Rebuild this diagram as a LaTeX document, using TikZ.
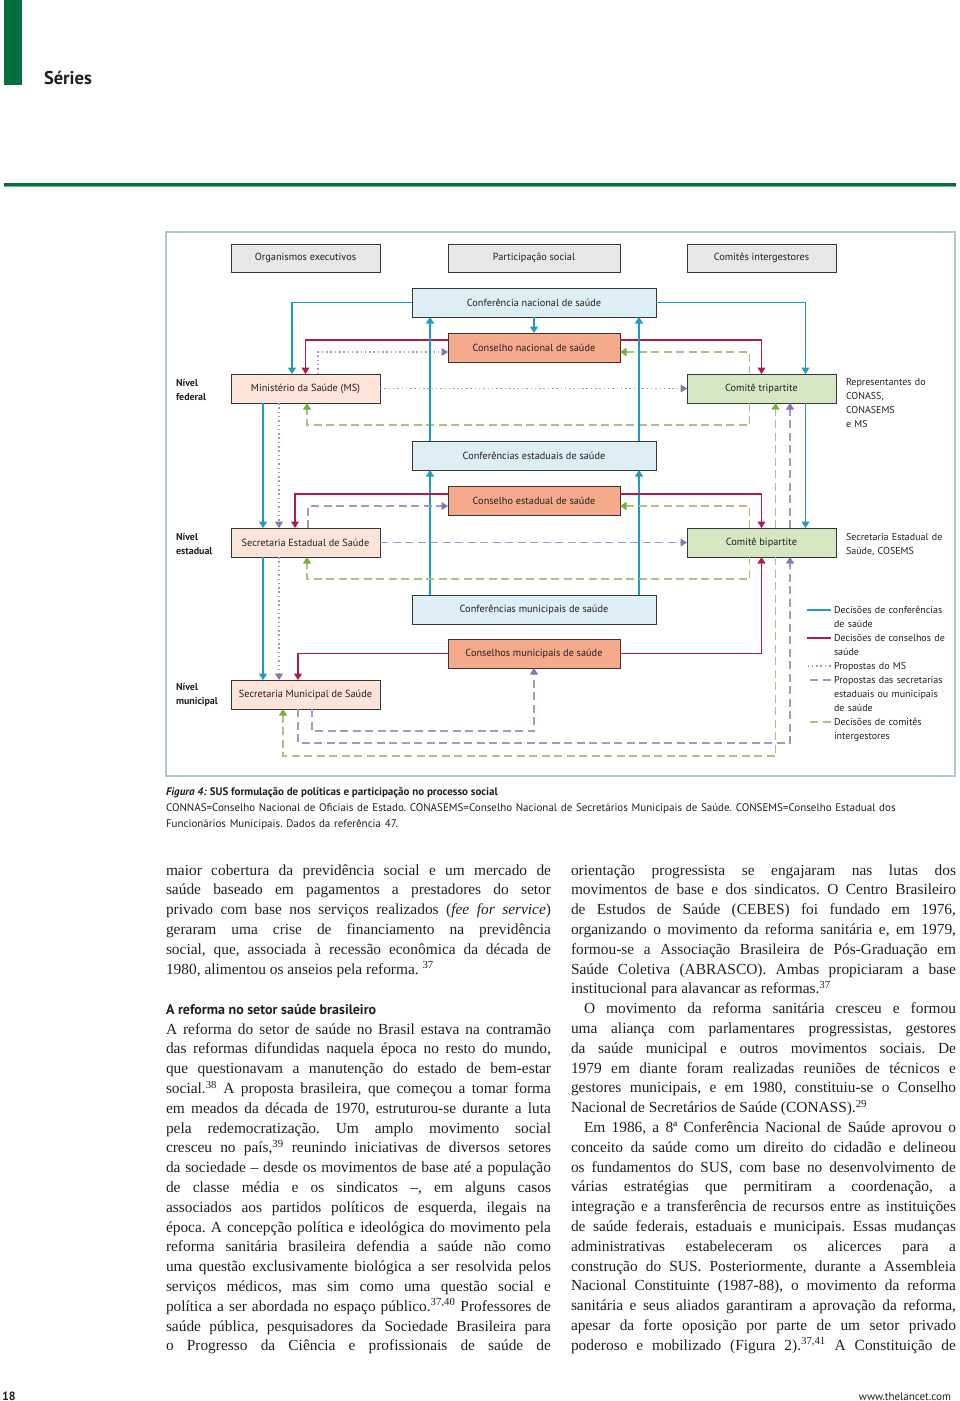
\documentclass[tikz,border=0pt]{standalone}
\usepackage{fontspec}
\setmainfont{Liberation Serif}
\newfontfamily\lancetsans{PT Sans}
\usetikzlibrary{arrows.meta}
\tolerance=10000
\hbadness=10000
\hyphenpenalty=10000
\frenchspacing

\begin{document}
\begin{tikzpicture}[x=1pt,y=-1pt,
  every node/.style={inner sep=0pt,outer sep=0pt,text=textColor},
  box/.style={draw=boxColor,line width=1pt,minimum width=149pt,minimum height=29pt,
    font=\lancetsans\fontsize{10.3}{12}\selectfont},
  hdrbox/.style={box,fill=grayFill,minimum height=28pt},
  confbox/.style={box,fill=confFill,minimum width=244pt},
  conbox/.style={box,fill=conFill,minimum width=172pt},
  secbox/.style={box,fill=secFill},
  combox/.style={box,fill=comFill},
  sidetext/.style={anchor=base west,text width=120pt,align=left,font=\lancetsans\fontsize{10}{14}\selectfont},
  lvltext/.style={sidetext,text width=52pt,font=\lancetsans\bfseries\fontsize{10}{14}\selectfont},
  conn/.style={line width=1.1pt},
  blueLine/.style={conn,draw=blueColor},
  redLine/.style={conn,draw=redColor},
  msLine/.style={conn,draw=purpleColor,dash pattern=on 1.5pt off 2.8pt},
  secLine/.style={conn,draw=purpleColor,dash pattern=on 8pt off 4.5pt},
  comLine/.style={conn,draw=greenColor,dash pattern=on 8pt off 4.5pt},
  arr/.style={-{Triangle[width=8pt,length=6.5pt,color=#1]}},
  body/.style={anchor=base west,text width=385pt,align=justify,font=\fontsize{15.4}{19.8}\selectfont},
]
\definecolor{textColor}{RGB}{35,31,32}
\definecolor{barColor}{RGB}{0,112,60}
\definecolor{ruleLight}{RGB}{110,180,140}
\definecolor{frameColor}{RGB}{175,200,195}
\definecolor{boxColor}{RGB}{55,55,55}
\definecolor{grayFill}{RGB}{230,231,232}
\definecolor{confFill}{RGB}{221,238,244}
\definecolor{conFill}{RGB}{246,170,140}
\definecolor{secFill}{RGB}{252,228,216}
\definecolor{comFill}{RGB}{213,230,195}
\definecolor{blueColor}{RGB}{30,155,190}
\definecolor{redColor}{RGB}{180,25,75}
\definecolor{purpleColor}{RGB}{165,150,198}
\definecolor{purpleTip}{RGB}{140,115,180}
\definecolor{greenColor}{RGB}{165,195,135}
\definecolor{greenTip}{RGB}{115,175,65}
\useasboundingbox[fill=white] (0,0) rectangle (960,1401);

% page head
\fill[barColor] (4,0) rectangle (22,85);
\node[anchor=base west,font=\lancetsans\bfseries\fontsize{18.5}{20}\selectfont] (series) at (44,84) {Séries};
\fill[barColor] (4,182.5) rectangle (956,185.5);
\fill[ruleLight] (4,185.5) rectangle (956,187);

% figure frame
\draw[frameColor,line width=1.2pt] (166,232) rectangle (955,776);

% column heads
\node[hdrbox] (hdrOrg) at (305.5,258) {Organismos executivos};
\node[hdrbox,minimum width=172pt] (hdrPart) at (534,258) {Participação social};
\node[hdrbox] (hdrCom) at (761.5,258) {Comitês intergestores};

% boxes
\node[confbox] (confNac) at (534,302.5) {Conferência nacional de saúde};
\node[conbox] (conNac) at (534,347.5) {Conselho nacional de saúde};
\node[secbox] (ms) at (305.5,388.5) {Ministério da Saúde (MS)};
\node[combox] (tri) at (761.5,388.5) {Comitê tripartite};
\node[confbox] (confEst) at (534,455.5) {Conferências estaduais de saúde};
\node[conbox] (conEst) at (534,500.5) {Conselho estadual de saúde};
\node[secbox] (ses) at (305.5,542.5) {Secretaria Estadual de Saúde};
\node[combox] (bi) at (761.5,542.5) {Comitê bipartite};
\node[confbox] (confMun) at (534,609.5) {Conferências municipais de saúde};
\node[conbox] (conMun) at (534,653.5) {Conselhos municipais de saúde};
\node[secbox] (sms) at (305.5,694.5) {Secretaria Municipal de Saúde};

% level names and notes
\node[lvltext] (lvlFed) at (176,386.5) {Nível\\federal};
\node[lvltext] (lvlEst) at (176,540) {Nível\\estadual};
\node[lvltext] (lvlMun) at (176,690) {Nível\\municipal};
\node[sidetext] (triNote) at (846,385.5) {Representantes do\\CONASS,\\CONASEMS\\e MS};
\node[sidetext] (biNote) at (846,540.5) {Secretaria Estadual de\\Saúde, COSEMS};

% federal level
\draw[blueLine,arr=blueColor] (confNac.west) -| ([xshift=-13.5pt]ms.north);
\draw[redLine,arr=redColor] ([yshift=7.5pt]conNac.west) -| (ms.north);
\draw[msLine,arr=purpleTip] ([xshift=12.5pt]ms.north) |- ([yshift=-4.5pt]conNac.west);
\draw[blueLine,arr=blueColor] (confNac.south) -- (conNac.north);
\draw[blueLine,arr=blueColor] (confNac.east) -| ([xshift=44pt]tri.north);
\draw[redLine,arr=redColor] ([yshift=7.5pt]conNac.east) -| (tri.north);
\draw[comLine,arr=greenTip] ([xshift=-12pt]tri.north) |- ([yshift=-4.5pt]conNac.east);
\draw[msLine,arr=purpleTip] (ms.east) -- (tri.west);
\draw[comLine,arr=greenTip] ([xshift=-12pt]tri.south) -- ([xshift=-12pt,yshift=-22pt]tri.south) -| ([xshift=1.5pt]ms.south);

% conferences
\draw[blueLine,arr=blueColor] ([xshift=-104pt]confEst.north) -- ([xshift=-104pt]confNac.south);
\draw[blueLine,arr=blueColor] ([xshift=105pt]confEst.north) -- ([xshift=105pt]confNac.south);
\draw[blueLine,arr=blueColor] ([xshift=-104pt]confMun.north) -- ([xshift=-104pt]confEst.south);
\draw[blueLine,arr=blueColor] ([xshift=105pt]confMun.north) -- ([xshift=105pt]confEst.south);

% federal to state
\draw[blueLine,arr=blueColor] ([xshift=-42.5pt]ms.south) -- ([xshift=-42.5pt]ses.north);
\draw[msLine,arr=purpleTip] ([xshift=-26.5pt]ms.south) -- ([xshift=-26.5pt]ses.north);
\draw[blueLine,arr=blueColor] ([xshift=44pt]tri.south) -- ([xshift=44pt]bi.north);
\draw[comLine,arr=greenTip] ([xshift=14pt]bi.north) -- ([xshift=14pt]tri.south);
\draw[secLine,arr=purpleTip] ([xshift=28.5pt]bi.north) -- ([xshift=28.5pt]tri.south);

% state level
\draw[redLine,arr=redColor] ([yshift=6.5pt]conEst.west) -| ([xshift=-10.5pt]ses.north);
\draw[secLine,arr=purpleTip] ([xshift=2.5pt]ses.north) |- ([yshift=-5.5pt]conEst.west);
\draw[redLine,arr=redColor] ([yshift=6.5pt]conEst.east) -| (bi.north);
\draw[comLine,arr=greenTip] ([xshift=-12pt]bi.north) |- ([yshift=-5.5pt]conEst.east);
\draw[secLine,arr=purpleTip] (ses.east) -- (bi.west);
\draw[comLine,arr=greenTip] ([xshift=-12pt]bi.south) -- ([xshift=-12pt,yshift=-22pt]bi.south) -| ([xshift=1.5pt]ses.south);

% state to municipal
\draw[blueLine,arr=blueColor] ([xshift=-42.5pt]ses.south) -- ([xshift=-42.5pt]sms.north);
\draw[msLine,arr=purpleTip] ([xshift=-26.5pt]ses.south) -- ([xshift=-26.5pt]sms.north);

% municipal level
\draw[redLine,arr=redColor] (conMun.west) -| ([xshift=-7.5pt]sms.north);
\draw[redLine,arr=redColor] (conMun.east) -| (bi.south);
\draw[secLine,arr=purpleTip] ([xshift=6.5pt]sms.south) -- ([xshift=6.5pt,yshift=-22pt]sms.south) -| (conMun.south);
\draw[secLine,arr=purpleTip] ([xshift=-7.5pt]sms.south) -- ([xshift=-7.5pt,yshift=-34pt]sms.south) -| ([xshift=28.5pt]bi.south);
\draw[comLine,arr=greenTip] ([xshift=14pt]bi.south) |- ([xshift=-22.5pt,yshift=-47pt]sms.south) -- ([xshift=-22.5pt]sms.south);

% legend
\node[sidetext] (legConf) at (834,613.5) {Decisões de conferências\\de saúde};
\node[sidetext] (legCons) at (834,641.5) {Decisões de conselhos de\\saúde};
\node[sidetext] (legMS) at (834,669.5) {Propostas do MS};
\node[sidetext] (legSec) at (834,683.5) {Propostas das secretarias\\estaduais ou municipais\\de saúde};
\node[sidetext] (legCom) at (834,725.5) {Decisões de comitês\\intergestores};
\draw[blueLine] ([xshift=-3.5pt,yshift=3.5pt]legConf.base west) -- ++(-24,0);
\draw[redLine] ([xshift=-3.5pt,yshift=3.5pt]legCons.base west) -- ++(-24,0);
\draw[msLine] ([xshift=-3.5pt,yshift=3.5pt]legMS.base west) -- ++(-24,0);
\draw[secLine] ([xshift=-3.5pt,yshift=3.5pt]legSec.base west) -- ++(-24,0);
\draw[comLine] ([xshift=-3.5pt,yshift=3.5pt]legCom.base west) -- ++(-24,0);

% caption
\node[anchor=base west,font=\lancetsans\bfseries\fontsize{11}{16}\selectfont] (capTitle) at (166,795)
  {\textit{Figura 4:} SUS formulação de políticas e participação no processo social};
\node[anchor=base west,text width=790pt,align=left,font=\lancetsans\fontsize{11}{16}\selectfont] (capText) at (166,811)
  {CONNAS=Conselho Nacional de Oficiais de Estado. CONASEMS=Conselho Nacional de Secretários Municipais de Saúde. CONSEMS=Conselho Estadual dos\\
   Funcionários Municipais. Dados da referência 47.};

% text columns
\node[body] (colLeftA) at (166,875) {%
maior cobertura da previdência social e um mercado de\linebreak
saúde baseado em pagamentos a prestadores do setor\linebreak
privado com base nos serviços realizados (\textit{fee for service})\linebreak
geraram uma crise de financiamento na previdência\linebreak
social, que, associada à recessão econômica da década de\linebreak
1980, alimentou os anseios pela reforma. \textsuperscript{37}};
\node[anchor=base west,font=\lancetsans\bfseries\fontsize{14}{19.8}\selectfont] (headLeft) at (166,1014)
  {A reforma no setor saúde brasileiro};
\node[body] (colLeftB) at (166,1034) {%
A reforma do setor de saúde no Brasil estava na contramão\linebreak
das reformas difundidas naquela época no resto do mundo,\linebreak
que questionavam a manutenção do estado de bem-estar\linebreak
social.\textsuperscript{38} A proposta brasileira, que começou a tomar forma\linebreak
em meados da década de 1970, estruturou-se durante a luta\linebreak
pela redemocratização. Um amplo movimento social\linebreak
cresceu no país,\textsuperscript{39} reunindo iniciativas de diversos setores\linebreak
da sociedade – desde os movimentos de base até a população\linebreak
de classe média e os sindicatos –, em alguns casos\linebreak
associados aos partidos políticos de esquerda, ilegais na\linebreak
época. A concepção política e ideológica do movimento pela\linebreak
reforma sanitária brasileira defendia a saúde não como\linebreak
uma questão exclusivamente biológica a ser resolvida pelos\linebreak
serviços médicos, mas sim como uma questão social e\linebreak
política a ser abordada no espaço público.\textsuperscript{37,40} Professores de\linebreak
saúde pública, pesquisadores da Sociedade Brasileira para\linebreak
o Progresso da Ciência e profissionais de saúde de\parfillskip=0pt\par};
\node[body] (colRight) at (571,875) {%
orientação progressista se engajaram nas lutas dos\linebreak
movimentos de base e dos sindicatos. O Centro Brasileiro\linebreak
de Estudos de Saúde (CEBES) foi fundado em 1976,\linebreak
organizando o movimento da reforma sanitária e, em 1979,\linebreak
formou-se a Associação Brasileira de Pós-Graduação em\linebreak
Saúde Coletiva (ABRASCO). Ambas propiciaram a base\linebreak
institucional para alavancar as reformas.\textsuperscript{37}\par
\hspace*{13pt}O movimento da reforma sanitária cresceu e formou\linebreak
uma aliança com parlamentares progressistas, gestores\linebreak
da saúde municipal e outros movimentos sociais. De\linebreak
1979 em diante foram realizadas reuniões de técnicos e\linebreak
gestores municipais, e em 1980, constituiu-se o Conselho\linebreak
Nacional de Secretários de Saúde (CONASS).\textsuperscript{29}\par
\hspace*{13pt}Em 1986, a 8ª Conferência Nacional de Saúde aprovou o\linebreak
conceito da saúde como um direito do cidadão e delineou\linebreak
os fundamentos do SUS, com base no desenvolvimento de\linebreak
várias estratégias que permitiram a coordenação, a\linebreak
integração e a transferência de recursos entre as instituições\linebreak
de saúde federais, estaduais e municipais. Essas mudanças\linebreak
administrativas estabeleceram os alicerces para a\linebreak
construção do SUS. Posteriormente, durante a Assembleia\linebreak
Nacional Constituinte (1987-88), o movimento da reforma\linebreak
sanitária e seus aliados garantiram a aprovação da reforma,\linebreak
apesar da forte oposição por parte de um setor privado\linebreak
poderoso e mobilizado (Figura 2).\textsuperscript{37,41} A Constituição de\parfillskip=0pt\par};

% page foot
\node[anchor=base west,font=\lancetsans\bfseries\fontsize{12}{14}\selectfont] (pageNo) at (2,1400) {18};
\node[anchor=base east,font=\lancetsans\fontsize{11}{14}\selectfont] (siteName) at (951,1400) {www.thelancet.com};
\end{tikzpicture}
\end{document}
